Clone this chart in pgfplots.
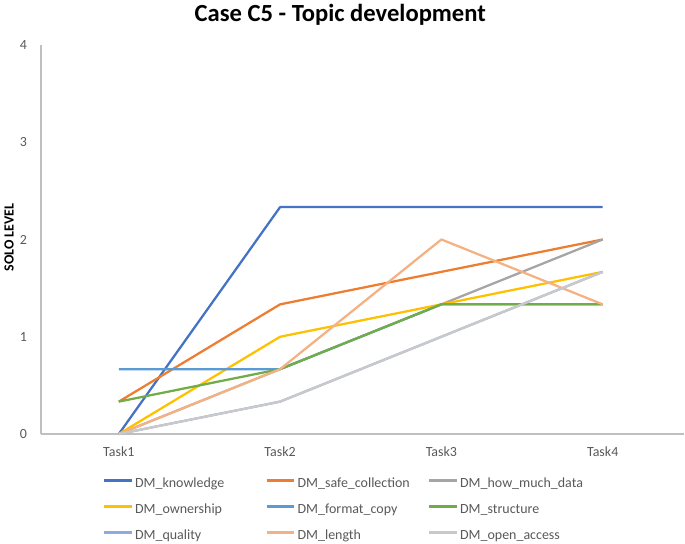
\documentclass[border=0pt]{standalone}
\usepackage{fontspec}
\setmainfont{Carlito}
\usepackage{pgfplots}
\pgfplotsset{compat=1.18}
\definecolor{c1}{HTML}{4472C4}
\definecolor{c2}{HTML}{ED7D31}
\definecolor{c3}{HTML}{A5A5A5}
\definecolor{c4}{HTML}{FFC000}
\definecolor{c5}{HTML}{5B9BD5}
\definecolor{c6}{HTML}{70AD47}
\definecolor{c7}{HTML}{8FAADC}
\definecolor{c8}{HTML}{F4B183}
\definecolor{c9}{HTML}{C9C9C9}
\definecolor{txt}{HTML}{595959}
\definecolor{axl}{HTML}{BFBFBF}
\newcommand{\lb}[1]{\makebox[98pt][l]{#1}}
\begin{document}
\begin{tikzpicture}
\path (0pt,0pt) rectangle (513.75pt,405pt);
\node[font=\bfseries\fontsize{18.5}{22}\selectfont] at (255pt,396pt) {Case C5 - Topic development};
\node[font=\bfseries\fontsize{10.5}{12}\selectfont, rotate=90] at (6pt,228.75pt) {SOLO LEVEL};
\begin{axis}[
  at={(30pt,81pt)}, anchor=south west, scale only axis,
  width=483.75pt, height=292.5pt,
  xmin=-0.4825, xmax=3.507, ymin=0, ymax=4,
  xtick={0,1,2,3}, xticklabels={Task1,Task2,Task3,Task4},
  ytick={0,1,2,3,4},
  axis x line*=bottom, axis y line*=left,
  axis line style={axl, line width=0.8pt, -},
  major tick length=0pt,
  /pgf/number format/assume math mode=true,
  tick label style={font=\fontsize{10.5}{12}\selectfont, text=txt},
  yticklabel style={xshift=-7pt},
  xticklabel style={yshift=-6pt},
  clip=false,
  every axis plot/.append style={line width=1.7pt, line join=round},
  legend columns=3,
  legend cell align=left,
  legend image code/.code={\draw[#1] (0pt,2.6pt) -- (21pt,2.6pt);},
  legend style={at={(0.0961,-0.1097)}, anchor=north west, draw=none, fill=none,
    inner sep=0pt, outer sep=0pt, row sep=8.5pt,
    font=\fontsize{10.5}{12}\selectfont, text=txt,
    nodes={inner sep=0pt, text height=8pt, text depth=3pt},
    /tikz/every odd column/.append style={column sep=1.5pt}},
]
\addplot[c1] coordinates {(0,0) (1,2.333) (2,2.333) (3,2.333)};
\addlegendentry{\lb{DM\_knowledge}}
\addplot[c2] coordinates {(0,0.333) (1,1.333) (2,1.667) (3,2)};
\addlegendentry{\lb{DM\_safe\_collection}}
\addplot[c3] coordinates {(0,0) (1,0.667) (2,1.333) (3,2)};
\addlegendentry{DM\_how\_much\_data}
\addplot[c4] coordinates {(0,0) (1,1) (2,1.333) (3,1.667)};
\addlegendentry{\lb{DM\_ownership}}
\addplot[c5] coordinates {(0,0.667) (1,0.667) (2,1.333) (3,1.333)};
\addlegendentry{\lb{DM\_format\_copy}}
\addplot[c6] coordinates {(0,0.333) (1,0.667) (2,1.333) (3,1.333)};
\addlegendentry{DM\_structure}
\addplot[c7] coordinates {(0,0) (1,0.333) (2,1) (3,1.667)};
\addlegendentry{\lb{DM\_quality}}
\addplot[c8] coordinates {(0,0) (1,0.667) (2,2) (3,1.333)};
\addlegendentry{\lb{DM\_length}}
\addplot[c9] coordinates {(0,0) (1,0.333) (2,1) (3,1.667)};
\addlegendentry{DM\_open\_access}
\end{axis}
\end{tikzpicture}
\end{document}
